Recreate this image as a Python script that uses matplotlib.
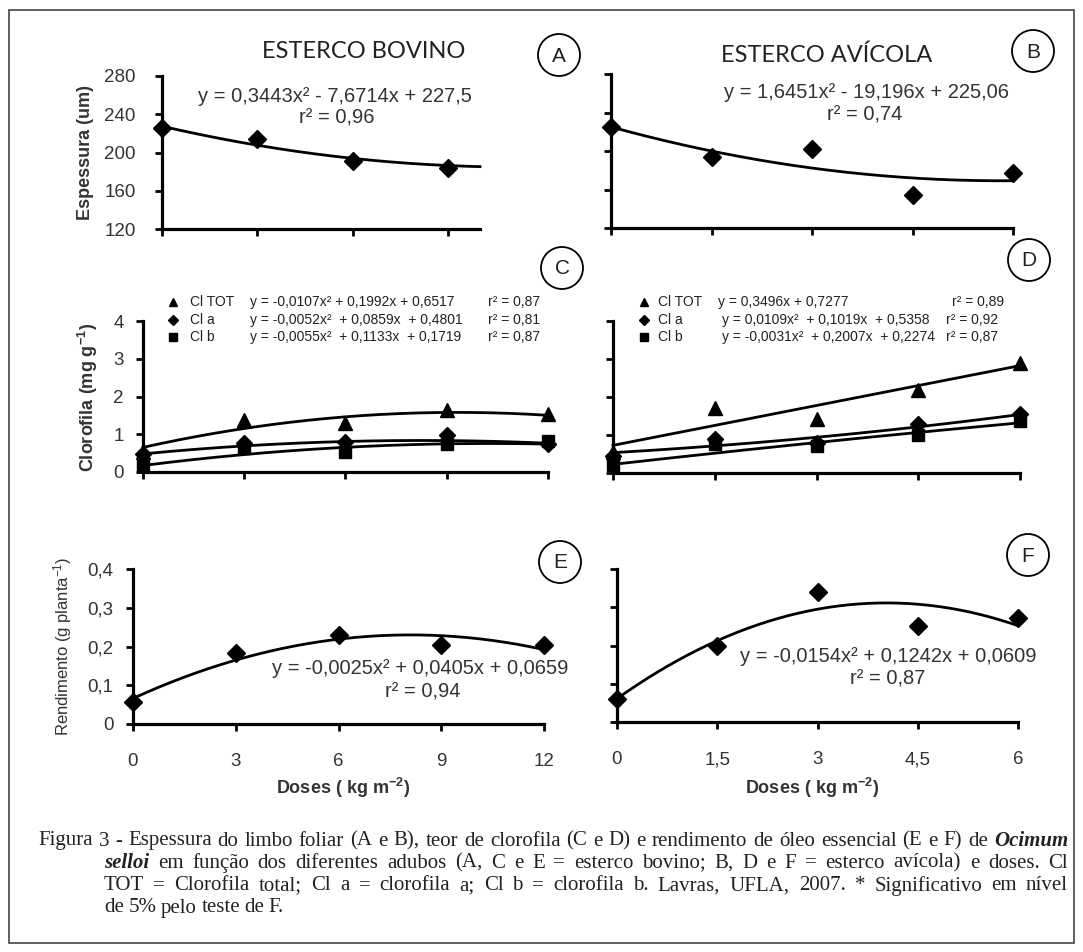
import numpy as np
import matplotlib.pyplot as plt
from matplotlib.patches import Ellipse, Rectangle

plt.rcParams['font.family'] = 'Liberation Sans'
plt.rcParams['mathtext.default'] = 'regular'

W, H = 1083, 952

# doses (kg m-2)
dose_bov = [0, 3, 6, 9, 12]
dose_avi = [0, 1.5, 3, 4.5, 6]
dose_esp_bov = [0, 3, 6, 9]

# Espessura do limbo (um)
esp_bov = [225.6, 214, 191, 183.8]
esp_avi = [224.9, 193.8, 202.1, 154.3, 177.1]
coef_esp_bov = [0.3443, -7.6714, 227.5]
coef_esp_avi = [1.6451, -19.196, 225.06]

# Clorofila (mg g-1)
cltot_bov = [0.53, 1.38, 1.30, 1.64, 1.53]
cla_bov = [0.48, 0.77, 0.80, 0.98, 0.75]
clb_bov = [0.15, 0.64, 0.53, 0.74, 0.82]
cltot_avi = [0.55, 1.70, 1.43, 2.18, 2.90]
cla_avi = [0.45, 0.90, 0.78, 1.28, 1.55]
clb_avi = [0.20, 0.76, 0.72, 1.00, 1.38]
coef_tot_bov = [-0.0107, 0.1992, 0.6517]
coef_a_bov = [-0.0052, 0.0859, 0.4801]
coef_b_bov = [-0.0055, 0.1133, 0.1719]
coef_tot_avi = [0.3496, 0.7277]
coef_a_avi = [0.0109, 0.1019, 0.5358]
coef_b_avi = [-0.0031, 0.2007, 0.2274]

# Rendimento de oleo (g planta-1)
rend_bov = [0.057, 0.183, 0.230, 0.204, 0.205]
rend_avi = [0.060, 0.200, 0.340, 0.251, 0.272]
coef_rend_bov = [-0.0025, 0.0405, 0.0659]
coef_rend_avi = [-0.0154, 0.1242, 0.0609]

fig = plt.figure(figsize=(W / 100, H / 100), dpi=100)


def eixo(x0, x1, ytop, ybot):
    # posicao em pixels da imagem -> fracao da figura
    ax = fig.add_axes([x0 / W, 1 - ybot / H, (x1 - x0) / W, (ybot - ytop) / H])
    for lado in ['top', 'right']:
        ax.spines[lado].set_visible(False)
    for lado in ['left', 'bottom']:
        ax.spines[lado].set_linewidth(2.3)
    ax.tick_params(direction='out', length=5, width=2, colors='black',
                   labelcolor='#333333', labelsize=13.5)
    ax.patch.set_visible(False)
    return ax


def curva(ax, coef, xmax):
    xx = np.linspace(0, xmax, 200)
    ax.plot(xx, np.polyval(coef, xx), color='black', lw=2.0, clip_on=False, zorder=2)


def pontos(ax, x, y, marker, ms):
    ax.plot(x, y, ls='none', marker=marker, ms=ms, color='black', clip_on=False, zorder=3)


def ftext(x, y, s, **kw):
    kw.setdefault('ha', 'center')
    kw.setdefault('va', 'center')
    return fig.text(x / W, 1 - y / H, s, **kw)


def letra(x, y, s):
    r = 21
    fig.add_artist(Ellipse((x / W, 1 - y / H), 2 * r / W, 2 * r / H, fill=False,
                           lw=1.3, color='black', transform=fig.transFigure))
    ftext(x, y + 1, s, fontsize=15, color='#222222')


# ---- A ----
axA = eixo(162, 480, 76, 229)
curva(axA, coef_esp_bov, 10)
pontos(axA, dose_esp_bov, esp_bov, 'D', 9)
axA.set_xlim(0, 10)
axA.set_ylim(120, 280)
axA.set_xticks([0, 3, 6, 9])
axA.set_xticklabels([])
axA.set_yticks([120, 160, 200, 240, 280])
axA.tick_params(axis='y', pad=14)

# ---- B ----
axB = eixo(611, 1013, 74, 228)
curva(axB, coef_esp_avi, 6)
pontos(axB, dose_avi, esp_avi, 'D', 9)
axB.set_xlim(0, 6)
axB.set_ylim(120, 280)
axB.set_xticks(dose_avi)
axB.set_yticks([120, 160, 200, 240, 280])
axB.set_xticklabels([])
axB.set_yticklabels([])

# ---- C ----
axC = eixo(143, 548, 321, 472)
curva(axC, coef_tot_bov, 12)
curva(axC, coef_a_bov, 12)
curva(axC, coef_b_bov, 12)
pontos(axC, dose_bov, cltot_bov, '^', 10)
pontos(axC, dose_bov, cla_bov, 'D', 8)
pontos(axC, dose_bov, clb_bov, 's', 8.5)
axC.set_xlim(0, 12)
axC.set_ylim(0, 4)
axC.set_xticks(dose_bov)
axC.set_xticklabels([])
axC.set_yticks([0, 1, 2, 3, 4])
axC.tick_params(axis='y', pad=9)

# ---- D ----
axD = eixo(613, 1020, 321, 473)
curva(axD, coef_tot_avi, 6)
curva(axD, coef_a_avi, 6)
curva(axD, coef_b_avi, 6)
pontos(axD, dose_avi, cltot_avi, '^', 10)
pontos(axD, dose_avi, cla_avi, 'D', 8)
pontos(axD, dose_avi, clb_avi, 's', 8.5)
axD.set_xlim(0, 6)
axD.set_ylim(0, 4)
axD.set_xticks(dose_avi)
axD.set_yticks([0, 1, 2, 3, 4])
axD.set_xticklabels([])
axD.set_yticklabels([])

# ---- E ----
axE = eixo(133, 544, 569, 724)
curva(axE, coef_rend_bov, 12)
pontos(axE, dose_bov, rend_bov, 'D', 9)
axE.set_xlim(0, 12)
axE.set_ylim(0, 0.4)
axE.set_xticks(dose_bov)
axE.set_xticklabels(['0', '3', '6', '9', '12'])
axE.set_yticks([0, 0.1, 0.2, 0.3, 0.4])
axE.set_yticklabels(['0', '0,1', '0,2', '0,3', '0,4'])
axE.tick_params(axis='y', pad=9)
axE.tick_params(axis='x', pad=16)

# ---- F ----
axF = eixo(617, 1018, 569, 722)
curva(axF, coef_rend_avi, 6)
pontos(axF, dose_avi, rend_avi, 'D', 9)
axF.set_xlim(0, 6)
axF.set_ylim(0, 0.4)
axF.set_xticks(dose_avi)
axF.set_xticklabels(['0', '1,5', '3', '4,5', '6'])
axF.set_yticks([0, 0.1, 0.2, 0.3, 0.4])
axF.set_yticklabels([])
axF.tick_params(axis='x', pad=16)

# titulos e rotulos
ftext(364, 52, 'ESTERCO BOVINO', family='Lato', fontsize=17, color='#222222')
ftext(827, 55, 'ESTERCO AVÍCOLA', family='Lato', fontsize=17, color='#222222')
ftext(86, 152, 'Espessura (um)', rotation=90, fontsize=13, weight='bold', color='#333333')
ftext(88, 397, 'Clorofila (mg g$^{-1}$)', rotation=90, fontsize=13, weight='bold', color='#333333')
ftext(63, 646, 'Rendimento (g planta$^{-1}$)', rotation=90, fontsize=12, color='#333333')
ftext(343, 788, 'Doses ( kg m$^{-2}$)', fontsize=13, weight='bold', color='#333333')
ftext(812, 788, 'Doses ( kg m$^{-2}$)', fontsize=13, weight='bold', color='#333333')

# equacoes
eq = dict(fontsize=14.5, color='#333333')
ftext(335, 97, 'y = 0,3443x² - 7,6714x + 227,5', **eq)
ftext(337, 118, 'r² = 0,96', **eq)
ftext(866, 93, 'y = 1,6451x² - 19,196x + 225,06', **eq)
ftext(865, 115, 'r² = 0,74', **eq)
ftext(420, 668, 'y = -0,0025x² + 0,0405x + 0,0659', **eq)
ftext(423, 692, 'r² = 0,94', **eq)
ftext(888, 657, 'y = -0,0154x² + 0,1242x + 0,0609', **eq)
ftext(888, 679, 'r² = 0,87', **eq)

# legendas das clorofilas
leg = dict(fontsize=10, color='#222222', ha='left')
linhas_C = [('^', 'Cl TOT', 'y = -0,0107x² + 0,1992x + 0,6517', 'r² = 0,87'),
            ('D', 'Cl a', 'y = -0,0052x²  + 0,0859x  + 0,4801', 'r² = 0,81'),
            ('s', 'Cl b', 'y = -0,0055x²  + 0,1133x  + 0,1719', 'r² = 0,87')]
linhas_D = [('^', 'Cl TOT', 'y = 0,3496x + 0,7277', 'r² = 0,89'),
            ('D', 'Cl a', 'y = 0,0109x²  + 0,1019x  + 0,5358', 'r² = 0,92'),
            ('s', 'Cl b', 'y = -0,0031x²  + 0,2007x  + 0,2274', 'r² = 0,87')]
ys = [302, 320, 337]
for (mk, nome, equ, r2), y in zip(linhas_C, ys):
    fig.add_artist(plt.Line2D([173 / W], [1 - y / H], marker=mk, ms=6 if mk != 'D' else 5,
                              color='black', transform=fig.transFigure))
    ftext(190, y, nome, **leg)
    ftext(250, y, equ, **leg)
    ftext(488, y, r2, **leg)
xs_eq = [718, 722, 722]
xs_r2 = [952, 946, 946]
for (mk, nome, equ, r2), y, xe, xr in zip(linhas_D, ys, xs_eq, xs_r2):
    fig.add_artist(plt.Line2D([644 / W], [1 - y / H], marker=mk, ms=6 if mk != 'D' else 5,
                              color='black', transform=fig.transFigure))
    ftext(658, y, nome, **leg)
    ftext(xe, y, equ, **leg)
    ftext(xr, y, r2, **leg)

# letras dos paineis
letra(559, 55, 'A')
letra(1033, 51, 'B')
letra(562, 268, 'C')
letra(1029, 260, 'D')
letra(560, 562, 'E')
letra(1028, 555, 'F')

# moldura
fig.add_artist(Rectangle((9 / W, 1 - 943 / H), 1065 / W, 933 / H, fill=False,
                         lw=1.2, edgecolor='#444444', transform=fig.transFigure))

# legenda da figura (justificada)
legenda = [
    'Figura 3 - Espessura do limbo foliar (A e B), teor de clorofila (C e D) e rendimento de óleo essencial (E e F) de Ocimum',
    'selloi em função dos diferentes adubos (A, C e E = esterco bovino; B, D e F = esterco avícola) e doses. Cl',
    'TOT = Clorofila total; Cl a = clorofila a; Cl b = clorofila b. Lavras, UFLA, 2007. * Significativo em nível',
    'de 5% pelo teste de F.',
]
destaque = {'Ocimum', 'selloi'}
renderer = fig.canvas.get_renderer()
y_linhas = [841, 863, 886, 908]
x_ini = [38, 104, 104, 104]
x_fim = 1068
for i, (linha, y) in enumerate(zip(legenda, y_linhas)):
    textos = []
    for palavra in linha.split(' '):
        estilo = dict(style='italic', weight='bold') if palavra in destaque else {}
        t = fig.text(0, 1 - y / H, palavra, ha='left', va='center', fontsize=15,
                     family='Liberation Serif', color='#222222', **estilo)
        textos.append(t)
    larg = [t.get_window_extent(renderer).width for t in textos]
    if i < len(legenda) - 1:
        gap = (x_fim - x_ini[i] - sum(larg)) / (len(textos) - 1)
    else:
        gap = 4.5
    x = x_ini[i]
    for t, w in zip(textos, larg):
        t.set_x(x / W)
        x += w + gap

fig.savefig('out.png', dpi=100)
